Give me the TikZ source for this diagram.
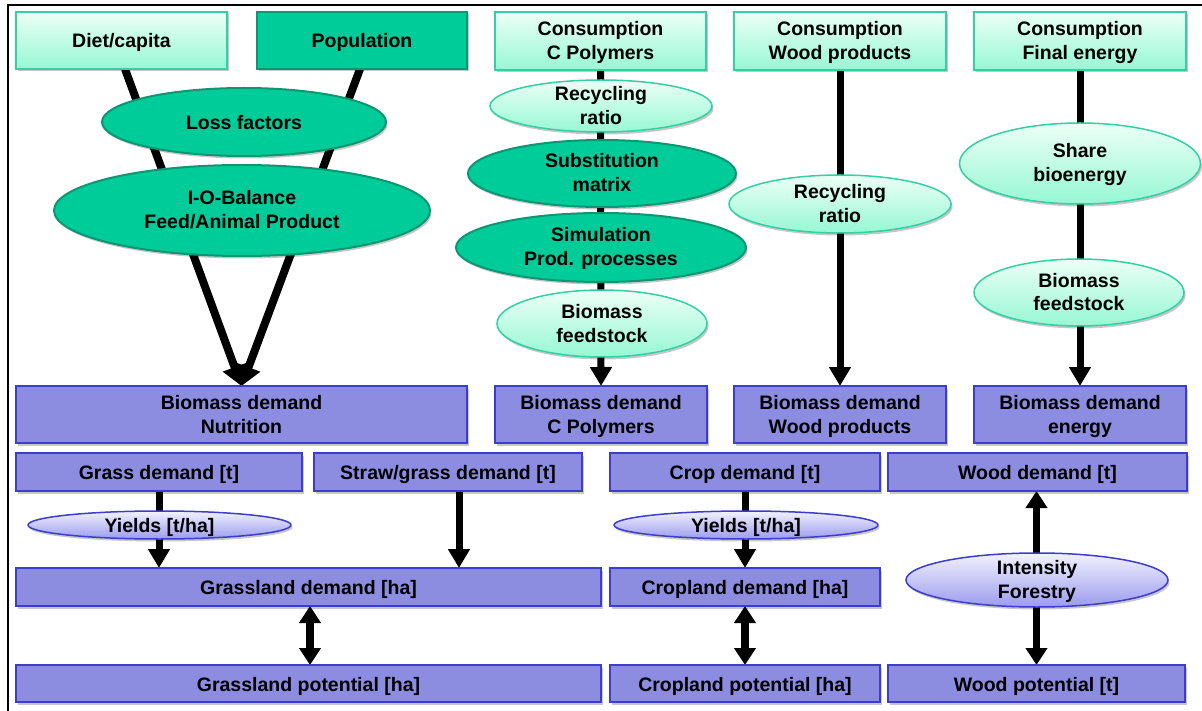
\documentclass[tikz,border=0pt]{standalone}
\usepackage{fontspec}
\setmainfont{Liberation Sans}
\usetikzlibrary{arrows.meta,shapes.geometric,shadows,backgrounds,calc}
\definecolor{mintTop}{RGB}{236,255,247}
\definecolor{mintBot}{RGB}{150,248,212}
\definecolor{mintEdge}{RGB}{50,208,162}
\definecolor{teal}{RGB}{0,204,153}
\definecolor{tealEdge}{RGB}{12,150,115}
\definecolor{purple}{RGB}{140,140,225}
\definecolor{purpleEdge}{RGB}{60,60,205}
\definecolor{lavTop}{RGB}{242,242,255}
\definecolor{lavBot}{RGB}{155,155,238}
\begin{document}
\begin{tikzpicture}[x=1pt,y=-1pt,
  every node/.style={font=\fontsize{19.5}{24}\selectfont\bfseries, align=center, inner sep=0pt, outer sep=0pt},
  sl/.style={text height=19pt, text depth=4pt},
  tl/.style={text height=41pt, text depth=4pt},
  shad/.style={drop shadow={shadow xshift=1.5pt, shadow yshift=-2.5pt, opacity=0.22, fill=black}},
  lightbox/.style={rectangle, draw=mintEdge, line width=1.5pt, top color=mintTop, bottom color=mintBot, shad},
  darkbox/.style={rectangle, draw=tealEdge, line width=2.5pt, fill=teal, shad},
  lightell/.style={ellipse, draw=mintEdge, line width=1.5pt, top color=mintTop, bottom color=mintBot, inner ysep=-8pt, shad},
  darkell/.style={ellipse, draw=tealEdge, line width=2pt, fill=teal, inner ysep=-8pt, shad},
  pbox/.style={rectangle, draw=purpleEdge, line width=1.5pt, fill=purple, shad},
  pell/.style={ellipse, draw=purpleEdge, line width=1.5pt, top color=lavTop, bottom color=lavBot, inner ysep=-8pt, shad},
  thick arrow/.style={line width=7pt, -{Triangle[width=21pt,length=19pt]}},
  dbl arrow/.style={line width=7.5pt, {Triangle[width=21pt,length=17pt]}-{Triangle[width=21pt,length=17pt]}},
  fat arrow/.style={line width=8pt, -{Triangle[width=24pt,length=20pt]}},
  frameline/.style={line width=2.5pt, black}
]
\useasboundingbox (0,0) rectangle (1202,711);

% frame
\coordinate (fTL) at (8,5);
\coordinate (fTR) at (1202,5);
\coordinate (fBL) at (8,711);
\draw[frameline] (fTR) -- (fTL) -- (fBL);

% top row
\node[lightbox, sl, minimum width=211pt, minimum height=57pt] (diet) at (121.5,40.5) {Diet/capita};
\node[darkbox, sl, minimum width=210pt, minimum height=57pt] (pop) at (362,40.5) {Population};
\node[lightbox, tl, minimum width=211pt, minimum height=58pt] (cpoly) at (600.5,41) {Consumption\\C Polymers};
\node[lightbox, tl, minimum width=212pt, minimum height=58pt] (cwood) at (840,41) {Consumption\\Wood products};
\node[lightbox, tl, minimum width=212pt, minimum height=58pt] (cenergy) at (1080,41) {Consumption\\Final energy};

% ellipses nutrition
\node[darkell, sl, minimum width=284pt, minimum height=68pt] (loss) at (244,122) {Loss factors};
\node[darkell, tl, minimum width=376pt, minimum height=91pt] (io) at (242,210.5) {I-O-Balance\\Feed/Animal Product};

% ellipses C polymers
\node[lightell, tl, minimum width=222pt, minimum height=52pt] (recp) at (601,106) {Recycling\\ratio};
\node[darkell, tl, minimum width=268pt, minimum height=67pt] (subst) at (602,173.5) {Substitution\\matrix};
\node[darkell, tl, minimum width=290pt, minimum height=69pt] (simu) at (601,247.5) {Simulation\\Prod. processes};
\node[lightell, tl, minimum width=210pt, minimum height=67pt] (feedp) at (602,323.5) {Biomass\\feedstock};

% ellipses wood / energy
\node[lightell, tl, minimum width=222pt, minimum height=58pt] (recw) at (840,204) {Recycling\\ratio};
\node[lightell, tl, minimum width=241pt, minimum height=81pt] (share) at (1080,163.5) {Share\\bioenergy};
\node[lightell, tl, minimum width=210pt, minimum height=67pt] (feede) at (1079,292.5) {Biomass\\feedstock};

% biomass demand row
\node[pbox, tl, minimum width=451pt, minimum height=57pt] (bnut) at (241.5,414.5) {Biomass demand\\Nutrition};
\node[pbox, tl, minimum width=212pt, minimum height=57pt] (bcpoly) at (601,414.5) {Biomass demand\\C Polymers};
\node[pbox, tl, minimum width=212pt, minimum height=57pt] (bwood) at (840,414.5) {Biomass demand\\Wood products};
\node[pbox, tl, minimum width=212pt, minimum height=57pt] (benergy) at (1080,414.5) {Biomass demand\\energy};

% demand [t] row
\node[pbox, sl, minimum width=286pt, minimum height=38pt] (grass) at (159,472) {Grass demand [t]};
\node[pbox, sl, minimum width=268pt, minimum height=38pt] (straw) at (448,472) {Straw/grass demand [t]};
\node[pbox, sl, minimum width=270pt, minimum height=38pt] (crop) at (745,472) {Crop demand [t]};
\node[pbox, sl, minimum width=299pt, minimum height=38pt] (wooddem) at (1037.5,472) {Wood demand [t]};

% yields / intensity
\node[pell, sl, minimum width=263pt, minimum height=28pt, inner ysep=-11pt] (yg) at (159.5,525) {Yields [t/ha]};
\node[pell, sl, minimum width=264pt, minimum height=28pt, inner ysep=-11pt] (yc) at (746,525) {Yields [t/ha]};
\node[pell, tl, minimum width=262pt, minimum height=54pt] (inten) at (1037,580) {Intensity\\Forestry};

% land demand row
\node[pbox, sl, minimum width=585pt, minimum height=38pt] (gland) at (308.5,587) {Grassland demand [ha]};
\node[pbox, sl, minimum width=270pt, minimum height=38pt] (cland) at (745,587) {Cropland demand [ha]};

% potential row
\node[pbox, sl, minimum width=585pt, minimum height=37pt] (gpot) at (308.5,683.5) {Grassland potential [ha]};
\node[pbox, sl, minimum width=270pt, minimum height=37pt] (cpot) at (745,683.5) {Cropland potential [ha]};
\node[pbox, sl, minimum width=297pt, minimum height=37pt] (wpot) at (1036.5,683.5) {Wood potential [t]};

\begin{pgfonlayer}{background}
  \draw[fat arrow] ($(diet.south)+(3.5,0)$) -- (bnut.north);
  \draw[fat arrow] ($(pop.south)+(-2,0)$) -- (bnut.north);
  \draw[thick arrow] (cpoly.south) -- (bcpoly.north);
  \draw[thick arrow] (cwood.south) -- (bwood.north);
  \draw[thick arrow] (cenergy.south) -- (benergy.north);
  \draw[thick arrow] (grass.south) -- (gland.north -| grass.south);
  \coordinate (strawout) at ($(straw.south)+(11,0)$);
  \draw[thick arrow] (strawout) -- (gland.north -| strawout);
  \draw[thick arrow] (crop.south) -- (cland.north);
  \coordinate (gpotin) at ($(gpot.north)+(1.5,0)$);
  \draw[dbl arrow] (gland.south -| gpotin) -- (gpotin);
  \draw[dbl arrow] (cland.south) -- (cpot.north);
  \draw[dbl arrow] (wooddem.south -| wpot.north) -- (wpot.north);
\end{pgfonlayer}
\end{tikzpicture}
\end{document}
